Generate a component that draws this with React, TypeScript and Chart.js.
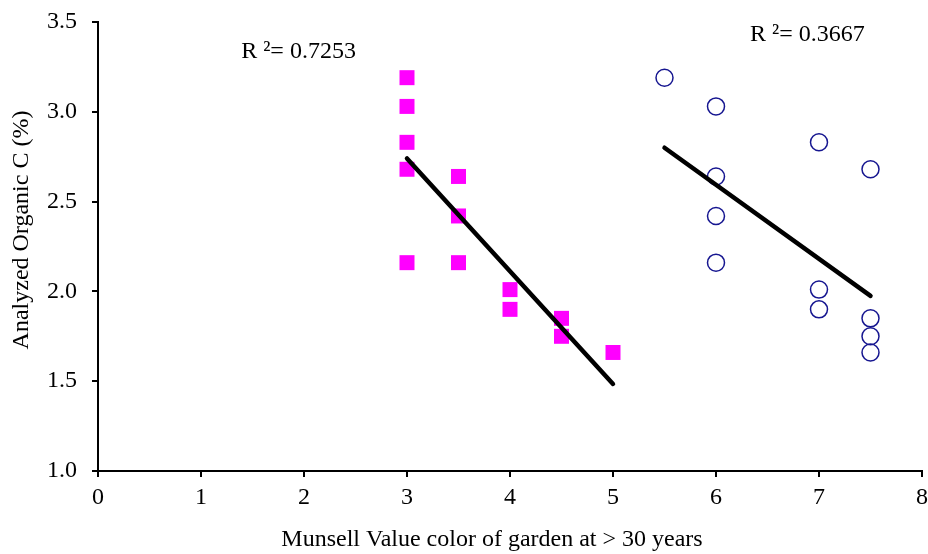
import React, { useEffect, useRef } from "react";
import { Chart, registerables } from "chart.js";

Chart.register(...registerables);

// Garden < 30 years (magenta squares)
const squareX = [3, 3, 3, 3, 3, 3.5, 3.5, 3.5, 4, 4, 4.5, 4.5, 5];
const squareY = [3.19, 3.03, 2.83, 2.68, 2.16, 2.64, 2.42, 2.16, 2.01, 1.9, 1.85, 1.75, 1.66];

// Garden > 30 years (blue open circles)
const circleX = [5.5, 6, 6, 6, 6, 7, 7, 7, 7.5, 7.5, 7.5, 7.5];
const circleY = [3.19, 3.03, 2.64, 2.42, 2.16, 2.83, 2.01, 1.9, 2.68, 1.85, 1.75, 1.66];

// Trend line endpoints
const trend1X = [3, 5];
const trend1Y = [2.74, 1.485];
const trend2X = [5.5, 7.5];
const trend2Y = [2.8, 1.975];

// Annotations
const annotTexts = ["R \u00B2= 0.7253", "R \u00B2= 0.3667"];
const annotX = [1.39, 6.33];
const annotY = [3.333, 3.43];

const xTitle = "Munsell Value color of garden at > 30 years";
const yTitle = "Analyzed Organic C (%)";

const FONT = "'Liberation Serif', 'Times New Roman', serif";
const FS = 24;

const zip = (xs: number[], ys: number[]) => xs.map((x, i) => ({ x, y: ys[i] }));

export default function App() {
  const ref = useRef<HTMLCanvasElement>(null);
  useEffect(() => {
    if (!ref.current) return;
    const textPlugin = {
      id: "texts",
      afterDatasetsDraw(chart: any) {
        const ctx = chart.ctx;
        const xs = chart.scales.x;
        const ys = chart.scales.y;
        ctx.save();
        ctx.fillStyle = "#000";
        ctx.font = `${FS}px ${FONT}`;
        ctx.textAlign = "left";
        ctx.textBaseline = "middle";
        annotTexts.forEach((t, i) => {
          ctx.fillText(t, xs.getPixelForValue(annotX[i]), ys.getPixelForValue(annotY[i]));
        });
        // axis titles
        ctx.textAlign = "center";
        ctx.fillText(xTitle, 492, 540);
        ctx.translate(22, 230);
        ctx.rotate(-Math.PI / 2);
        ctx.fillText(yTitle, 0, 0);
        ctx.restore();
      },
    };
    const chart = new Chart(ref.current, {
      type: "scatter",
      data: {
        datasets: [
          {
            type: "line",
            data: zip(trend1X, trend1Y),
            borderColor: "#000",
            borderWidth: 4.5,
            pointRadius: 0,
            showLine: true,
            borderCapStyle: "round",
            clip: false,
            order: 0,
          } as any,
          {
            type: "line",
            data: zip(trend2X, trend2Y),
            borderColor: "#000",
            borderWidth: 4.5,
            pointRadius: 0,
            showLine: true,
            borderCapStyle: "round",
            clip: false,
            order: 0,
          } as any,
          {
            data: zip(squareX, squareY),
            pointStyle: "rect",
            pointRadius: 10.6,
            backgroundColor: "#FF00FF",
            borderColor: "#FF00FF",
            borderWidth: 0,
            clip: false,
            order: 1,
          },
          {
            data: zip(circleX, circleY),
            pointStyle: "circle",
            pointRadius: 8.5,
            backgroundColor: "rgba(255,255,255,0)",
            borderColor: "#161690",
            borderWidth: 1.5,
            clip: false,
            order: 1,
          },
        ],
      },
      options: {
        animation: false,
        responsive: false,
        layout: { autoPadding: false, padding: { top: 22, right: 6, left: 0, bottom: 0 } },
        plugins: { legend: { display: false }, tooltip: { enabled: false } },
        scales: {
          x: {
            type: "linear",
            min: 0,
            max: 8,
            afterFit: (s: any) => {
              s.height = 83;
              s.paddingLeft = 0;
              s.paddingRight = 0;
            },
            ticks: {
              stepSize: 1,
              color: "#000",
              font: { family: FONT, size: FS, lineHeight: 1.7 },
              padding: 0,
              maxRotation: 0,
            },
            grid: {
              display: true,
              drawOnChartArea: false,
              drawTicks: true,
              tickLength: 6,
              color: "#000",
              lineWidth: 2,
            },
            border: { display: true, color: "#000", width: 2 },
            title: { display: false },
          },
          y: {
            type: "linear",
            min: 1,
            max: 3.5,
            afterFit: (s: any) => {
              s.width = 98;
              s.paddingTop = 0;
              s.paddingBottom = 0;
            },
            ticks: {
              stepSize: 0.5,
              color: "#000",
              font: { family: FONT, size: FS },
              padding: 15,
              callback: (v: any) => Number(v).toFixed(1),
            },
            grid: {
              display: true,
              drawOnChartArea: false,
              drawTicks: true,
              tickLength: 6,
              color: "#000",
              lineWidth: 2,
            },
            border: { display: true, color: "#000", width: 2 },
            title: { display: false },
          },
        },
      },
      plugins: [textPlugin],
    } as any);
    return () => chart.destroy();
  }, []);
  return (
    <div style={{ position: "absolute", left: 0, top: 0, width: 928, height: 554, background: "#fff" }}>
      <canvas ref={ref} width={928} height={554} style={{ width: 928, height: 554 }} />
    </div>
  );
}
